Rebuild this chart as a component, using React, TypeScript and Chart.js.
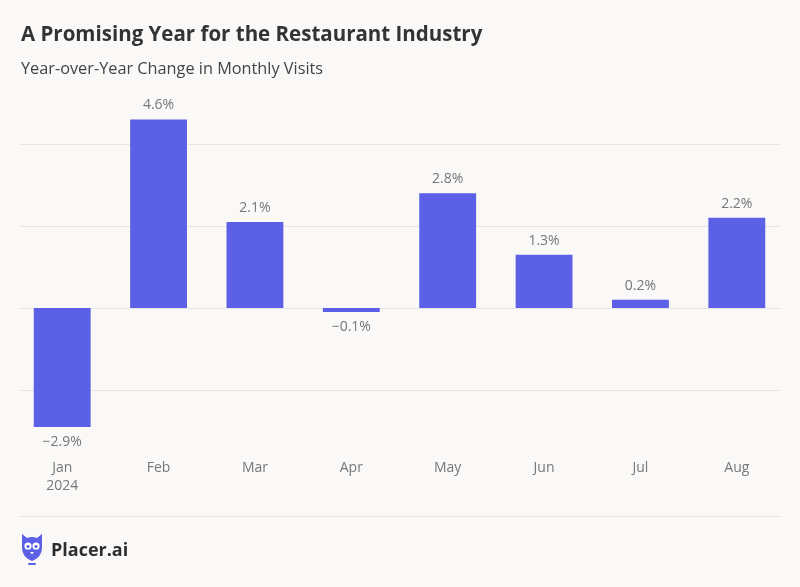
import React, { useEffect, useRef } from "react";
import { Chart, registerables } from "chart.js";

Chart.register(...registerables);

const categories: (string | string[])[] = [["Jan", "2024"], "Feb", "Mar", "Apr", "May", "Jun", "Jul", "Aug"];
const visitChange: number[] = [-2.9, 4.6, 2.1, -0.1, 2.8, 1.3, 0.2, 2.2];
const gridValues: number[] = [-2, 0, 2, 4];

const BG = "#faf9f7";
const BAR = "#5c60e6";
const FONT = "'Open Sans', 'Noto Sans', sans-serif";

const fmt = (v: number) => (v < 0 ? "\u2212" + Math.abs(v).toFixed(1) : v.toFixed(1)) + "%";

const gridPlugin = {
  id: "customGrid",
  beforeDatasetsDraw(chart: any) {
    const { ctx, scales } = chart;
    const y = scales.y;
    ctx.save();
    ctx.strokeStyle = "#e6e5e3";
    ctx.lineWidth = 1;
    gridValues.forEach((v) => {
      const py = Math.round(y.getPixelForValue(v)) + 0.5;
      ctx.beginPath();
      ctx.moveTo(20, py);
      ctx.lineTo(780, py);
      ctx.stroke();
    });
    ctx.restore();
  },
};

const labelPlugin = {
  id: "valueLabels",
  afterDatasetsDraw(chart: any) {
    const { ctx } = chart;
    const meta = chart.getDatasetMeta(0);
    ctx.save();
    ctx.fillStyle = "#777777";
    ctx.font = `14px ${FONT}`;
    ctx.textAlign = "center";
    ctx.textBaseline = "middle";
    meta.data.forEach((bar: any, i: number) => {
      const v = visitChange[i];
      const yPos = v >= 0 ? bar.y - 14 : bar.y + 15;
      ctx.fillText(fmt(v), bar.x, yPos);
    });
    ctx.restore();
  },
};

export default function App() {
  const ref = useRef<HTMLCanvasElement | null>(null);

  useEffect(() => {
    document.body.style.margin = "0";
    const canvas = ref.current;
    if (!canvas) return;
    const chart = new Chart(canvas, {
      type: "bar",
      data: {
        labels: categories,
        datasets: [
          {
            data: visitChange,
            backgroundColor: BAR,
            borderWidth: 0,
            categoryPercentage: 1,
            barPercentage: 0.59,
          },
        ],
      },
      options: {
        animation: false,
        responsive: false,
        maintainAspectRatio: false,
        layout: { padding: { left: 14, right: 15, top: 103, bottom: 87.5 } },
        plugins: { legend: { display: false }, tooltip: { enabled: false } },
        scales: {
          x: {
            grid: { display: false, drawTicks: false },
            border: { display: false },
            ticks: {
              color: "#777777",
              font: { family: FONT, size: 14, lineHeight: 1.3 },
              padding: 7,
              maxRotation: 0,
            },
            afterFit: (scale: any) => {
              scale.height = 48;
            },
          },
          y: {
            display: false,
            min: -3.5,
            max: 5,
          },
        },
      },
      plugins: [gridPlugin, labelPlugin],
    });
    return () => chart.destroy();
  }, []);

  return (
    <div style={{ position: "relative", width: 800, height: 587, background: BG, overflow: "hidden", fontFamily: FONT }}>
      <canvas ref={ref} width={800} height={587} style={{ position: "absolute", left: 0, top: 0, width: 800, height: 587 }} />
      <div style={{ position: "absolute", left: 21, top: 19, fontSize: 20.5, fontWeight: 700, color: "#333333", whiteSpace: "nowrap", lineHeight: "28px" }}>
        A Promising Year for the Restaurant Industry
      </div>
      <div style={{ position: "absolute", left: 21, top: 56, fontSize: 16.3, color: "#444444", whiteSpace: "nowrap", lineHeight: "24px" }}>
        Year-over-Year Change in Monthly Visits
      </div>
      <div style={{ position: "absolute", left: 20, top: 516, width: 760, height: 1, background: "#e6e5e3" }} />
      <svg style={{ position: "absolute", left: 19, top: 532 }} width={26} height={34} viewBox="0 0 26 34">
        <path d="M3 2 L8 6 Q13 4 18 6 L23 2 L23 16 Q23 25 13 29 Q3 25 3 16 Z" fill={BAR} />
        <circle cx={9} cy={14} r={3.6} fill="#ffffff" />
        <circle cx={17} cy={14} r={3.6} fill="#ffffff" />
        <circle cx={9} cy={14.5} r={1.6} fill={BAR} />
        <circle cx={17} cy={14.5} r={1.6} fill={BAR} />
        <path d="M11 20 L13 22.5 L15 20 Z" fill="#ffffff" />
        <rect x={9} y={31} width={8} height={2} rx={1} fill={BAR} />
      </svg>
      <div style={{ position: "absolute", left: 51, top: 535, fontSize: 18, fontWeight: 700, color: "#2d2d2d", whiteSpace: "nowrap", lineHeight: "28px" }}>
        Placer.ai
      </div>
    </div>
  );
}
